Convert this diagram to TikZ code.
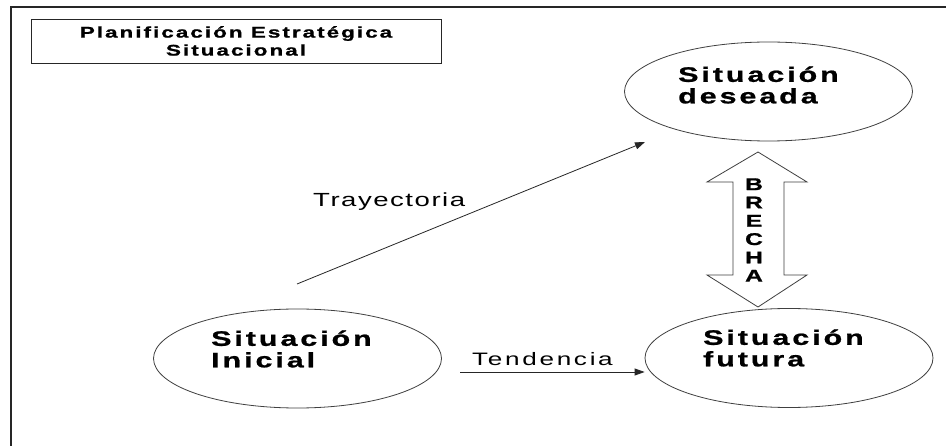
\documentclass[tikz,border=0pt]{standalone}
\usepackage{fontspec}
\setmainfont{Liberation Sans}[FakeStretch=1.45,BoldFeatures={FakeBold=1}]
\usetikzlibrary{shapes.geometric,arrows.meta}

\begin{document}
\begin{tikzpicture}[x=1pt,y=-1pt,
        situacion/.style={draw=black!75,line width=0.8pt,ellipse,minimum width=288pt,minimum height=99pt,inner sep=0pt},
        texto/.style={align=left,inner sep=0pt,font=\bfseries\fontsize{21}{21.5}\selectfont\addfontfeature{LetterSpace=14}},
        etiqueta/.style={inner sep=0pt,anchor=base west},
        flecha/.style={draw=black!85,line width=0.8pt,-{Triangle[length=10pt,width=7pt]}}]
        \useasboundingbox (0,0) rectangle (946,446);
        \fill[white] (0,0) rectangle (946,446);
        \draw[line width=1.5pt,black!85] (946,7) -- (11,7) -- (11,446);

        \node[draw=black!85,line width=0.9pt,minimum width=410pt,minimum height=44pt,align=center,
              font=\bfseries\fontsize{15.5}{18}\selectfont\addfontfeature{LetterSpace=13}] (titulo) at (236,41) {Planificación Estratégica\\Situacional};

        \node[situacion] (inicial) at (297.5,358.5) {};
        \node[situacion] (futura) at (789,358) {};
        \node[situacion] (deseada) at (768.5,91.5) {};

        \node[texto,anchor=west] (inicial-t) at (211,349) {Situación\\Inicial};
        \node[texto,anchor=west] (futura-t) at (703,348) {Situación\\futura};
        \node[texto,anchor=west] (deseada-t) at (678,85) {Situación\\deseada};

        \draw[draw=black!75,line width=0.8pt,fill=white] (758,152) -- (807,182) -- (784,182) -- (784,275) -- (807,275)
              -- (758,307) -- (707,275) -- (733,275) -- (733,182) -- (707,182) -- cycle;
        \node[align=center,inner sep=0pt,font=\bfseries\fontsize{17}{18.3}\selectfont] (brecha) at (754,230) {B\\R\\E\\C\\H\\A};

        \coordinate (tray-a) at (297,284);
        \coordinate (tray-b) at (645,142);
        \draw[flecha] (tray-a) -- (tray-b);
        \node[etiqueta,font=\fontsize{19}{20}\selectfont\addfontfeature{LetterSpace=8}] (trayectoria) at (313,207) {Trayectoria};

        \coordinate (tend-a) at (460,372);
        \draw[flecha] (tend-a) -- (tend-a -| futura.west);
        \node[etiqueta,font=\fontsize{18}{20}\selectfont\addfontfeature{LetterSpace=15}] (tendencia) at (472,366) {Tendencia};
    \end{tikzpicture}
\end{document}
